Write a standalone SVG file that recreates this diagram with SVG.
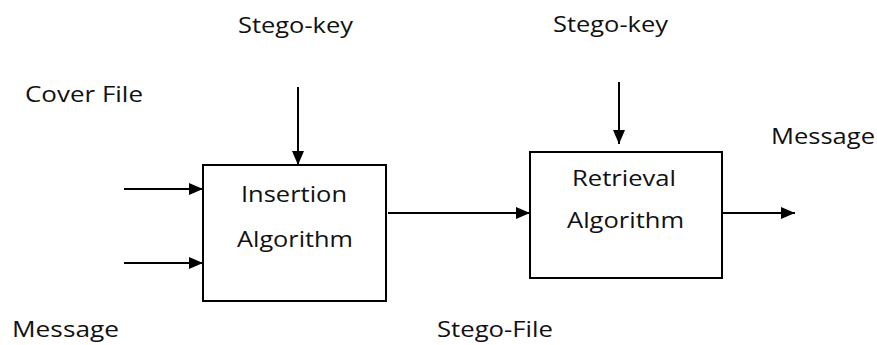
<svg xmlns="http://www.w3.org/2000/svg" width="877" height="345" viewBox="0 0 877 345">
<style>
text{font-family:"Open Sans","Liberation Sans",sans-serif;font-size:22px;fill:#111}
.box{fill:#fff;stroke:#000;stroke-width:2}
.ln{stroke:#000;stroke-width:2;fill:none}
</style>
<defs>
<marker id="ah" viewBox="0 0 14 12" refX="14" refY="6" markerWidth="14" markerHeight="12" markerUnits="userSpaceOnUse" orient="auto">
<path d="M0,0 L14,6 L0,12 Z" fill="#000"/>
</marker>
</defs>
<rect width="877" height="345" fill="#fff"/>
<g id="connectors">
<line class="ln" x1="124" y1="189" x2="203" y2="189" marker-end="url(#ah)"/>
<line class="ln" x1="124" y1="263" x2="203" y2="263" marker-end="url(#ah)"/>
<line class="ln" x1="298" y1="87" x2="298" y2="165" marker-end="url(#ah)"/>
<line class="ln" x1="619" y1="82" x2="619" y2="144" marker-end="url(#ah)"/>
<line class="ln" x1="388" y1="213" x2="530" y2="213" marker-end="url(#ah)"/>
<line class="ln" x1="722" y1="213" x2="795" y2="213" marker-end="url(#ah)"/>
</g>
<g id="insertion">
<rect class="box" x="203" y="165" width="183" height="136"/>
<text x="241" y="202" textLength="106" lengthAdjust="spacingAndGlyphs">Insertion</text>
<text x="237" y="247" textLength="116" lengthAdjust="spacingAndGlyphs">Algorithm</text>
</g>
<g id="retrieval">
<rect class="box" x="530" y="152" width="192" height="126"/>
<text x="572" y="186" textLength="104" lengthAdjust="spacingAndGlyphs">Retrieval</text>
<text x="567" y="228" textLength="117" lengthAdjust="spacingAndGlyphs">Algorithm</text>
</g>
<g id="labels">
<text x="238" y="33" textLength="115" lengthAdjust="spacingAndGlyphs">Stego-key</text>
<text x="553" y="32" textLength="115" lengthAdjust="spacingAndGlyphs">Stego-key</text>
<text x="25" y="102" textLength="118" lengthAdjust="spacingAndGlyphs">Cover File</text>
<text x="771" y="144" textLength="104" lengthAdjust="spacingAndGlyphs">Message</text>
<text x="12" y="337" textLength="107" lengthAdjust="spacingAndGlyphs">Message</text>
<text x="437" y="337" textLength="116" lengthAdjust="spacingAndGlyphs">Stego-File</text>
</g>
</svg>
